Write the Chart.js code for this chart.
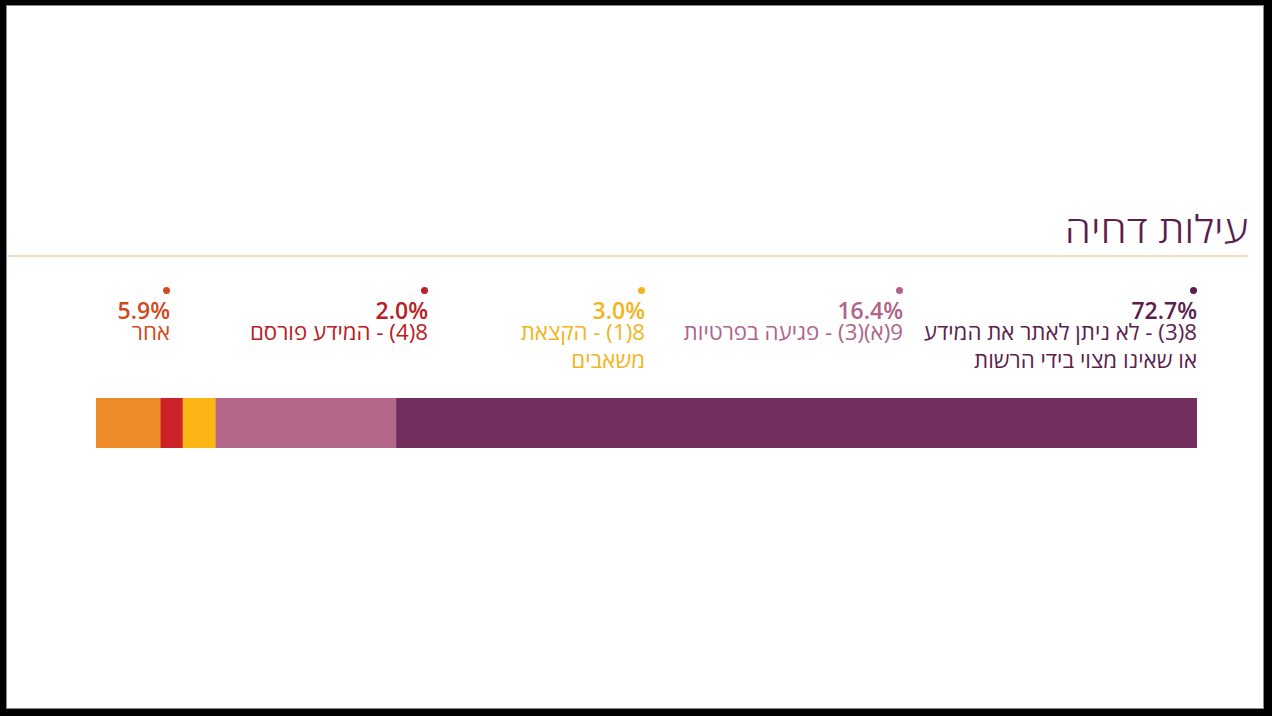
<!DOCTYPE html>
<html lang="he">
<head>
<meta charset="utf-8">
<script src="https://cdn.jsdelivr.net/npm/chart.js@4/dist/chart.umd.min.js"></script>
<style>
  html, body { margin: 0; padding: 0; background: #000; width: 1272px; height: 716px; overflow: hidden; }
  #frame { position: absolute; left: 6px; top: 5px; width: 1256px; height: 702px; background: #fff; border: 1px solid #8a8a8a; }
  .title { position: absolute; right: 24px; top: 203px; font-family: "Open Sans", "Liberation Sans", sans-serif; font-weight: 300; font-size: 38px; line-height: 50px; color: #5c1e4e; direction: rtl; transform: scaleX(1.11); transform-origin: right center; }
  .rule { position: absolute; left: 8px; width: 1240px; top: 255px; height: 2px; background: #f7dfb8; }
  .leg { position: absolute; top: 287px; direction: rtl; text-align: right; font-family: "Open Sans", "Liberation Sans", sans-serif; white-space: nowrap; }
  .leg .dot { width: 7px; height: 7px; border-radius: 50%; margin: 0 0 6px auto; }
  .leg .pct { font-size: 23px; font-weight: 600; line-height: 20px; direction: ltr; text-align: right; }
  .leg .txt { font-size: 22.3px; line-height: 28px; margin-top: -2px; }
  #wrap { position: absolute; left: 96px; top: 398px; width: 1101px; height: 50px; }
</style>
</head>
<body>
<div id="frame"></div>
<div class="title">עילות דחיה</div>
<div class="rule"></div>
<div id="legend"></div>
<div id="wrap"><canvas id="barChart"></canvas></div>
<script>
// rejection reasons, right to left as in the picture
var reasons = [
  '8(3) - לא ניתן לאתר את המידע<br>או שאינו מצוי בידי הרשות',
  '9(א)(3) - פגיעה בפרטיות',
  '8(1) - הקצאת<br>משאבים',
  '8(4) - המידע פורסם',
  'אחר'
];
var shares = [72.7, 16.4, 3.0, 2.0, 5.9];
var barColors = ['#722f5e', '#b4678a', '#fbb515', '#cc2229', '#ee8a2a'];
var textColors = ['#5c1e4e', '#b0648a', '#f2b420', '#b82025', '#d04a1e'];
var legendRight = [1197, 903, 645, 428, 170];

var legend = document.getElementById('legend');
for (var i = 0; i < reasons.length; i++) {
    var col = document.createElement('div');
    col.className = 'leg';
    col.style.right = (1272 - legendRight[i]) + 'px';
    col.style.color = textColors[i];
    col.innerHTML = '<div class="dot" style="background:' + textColors[i] + '"></div>' +
        '<div class="pct">' + shares[i].toFixed(1) + '%</div>' +
        '<div class="txt">' + reasons[i] + '</div>';
    legend.appendChild(col);
}

var datasets = [];
for (var j = 0; j < shares.length; j++) {
    datasets.push({
        label: reasons[j].replace('<br>', ' '),
        data: [shares[j]],
        backgroundColor: barColors[j],
        borderWidth: 0,
        barPercentage: 1,
        categoryPercentage: 1
    });
}

var ctx = document.getElementById('barChart');
var barChart = new Chart(ctx, {
    type: 'bar',
    data: { labels: ['עילות'], datasets: datasets },
    options: {
        indexAxis: 'y',
        responsive: true,
        maintainAspectRatio: false,
        animation: false,
        layout: { padding: 0 },
        plugins: { legend: { display: false }, tooltip: { enabled: false } },
        scales: {
            x: { stacked: true, min: 0, max: 100, reverse: true, display: false },
            y: { stacked: true, display: false }
        }
    }
});
</script>
</body>
</html>
